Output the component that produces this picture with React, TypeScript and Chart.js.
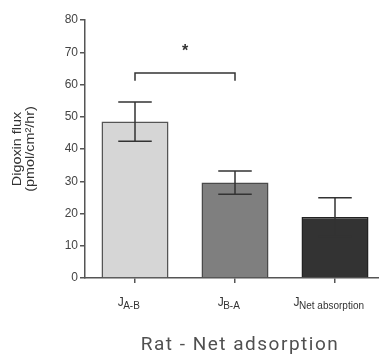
import React, { useEffect, useRef } from "react";
import { Chart, registerables } from "chart.js";

Chart.register(...registerables);

const categories = ["A-B", "B-A", "Net absorption"];
const means = [48.5, 29.6, 18.9];
const errors = [6.1, 3.6, 6.0];
const barColors = ["#d6d6d6", "#7f7f7f", "#333333"];
const borderColors = ["#555555", "#4a4a4a", "#222222"];
const yMin = 0;
const yMax = 80;
const yStep = 10;
const bracketValue = 63.6;
const bracketDrop = 2.4;
const starValue = 71;
const yTitleLines = ["Digoxin flux", "(pmol/cm²/hr)"];
const chartTitle = "Rat - Net adsorption";

const overlayPlugin = {
  id: "overlay",
  afterDatasetsDraw(chart: any) {
    const ctx = chart.ctx;
    const x = chart.scales.x;
    const y = chart.scales.y;
    const meta = chart.getDatasetMeta(0);
    ctx.save();
    // error bars
    ctx.strokeStyle = "#333";
    ctx.lineWidth = 1.5;
    meta.data.forEach((bar: any, i: number) => {
      const cx = bar.x;
      const top = y.getPixelForValue(means[i] + errors[i]);
      const bot = y.getPixelForValue(means[i] - errors[i]);
      const half = bar.width / 4;
      ctx.beginPath();
      ctx.moveTo(cx, top);
      ctx.lineTo(cx, bot);
      ctx.moveTo(cx - half, top);
      ctx.lineTo(cx + half, top);
      ctx.moveTo(cx - half, bot);
      ctx.lineTo(cx + half, bot);
      ctx.stroke();
    });
    // bracket
    const bx1 = x.getPixelForValue(0);
    const bx2 = x.getPixelForValue(1);
    const by = y.getPixelForValue(bracketValue);
    const byd = y.getPixelForValue(bracketValue - bracketDrop);
    ctx.beginPath();
    ctx.moveTo(bx1, byd);
    ctx.lineTo(bx1, by);
    ctx.lineTo(bx2, by);
    ctx.lineTo(bx2, byd);
    ctx.stroke();
    // star
    ctx.fillStyle = "#333";
    ctx.font = "bold 16px 'Liberation Sans'";
    ctx.textAlign = "center";
    ctx.textBaseline = "middle";
    ctx.fillText("*", (bx1 + bx2) / 2, y.getPixelForValue(starValue) + 3);
    // x labels J + subscript
    categories.forEach((c, i) => {
      const tx = x.getPixelForValue(i);
      ctx.font = "12px 'Liberation Sans'";
      const wJ = ctx.measureText("J").width;
      ctx.font = "10px 'Liberation Sans'";
      const wS = ctx.measureText(c).width;
      const start = tx - 6 - (wJ + wS) / 2;
      ctx.textAlign = "left";
      ctx.textBaseline = "alphabetic";
      ctx.fillStyle = "#333";
      ctx.font = "12px 'Liberation Sans'";
      ctx.fillText("J", start, 306);
      ctx.font = "10px 'Liberation Sans'";
      ctx.fillText(c, start + wJ - 0.5, 309);
    });
    // y title
    const cy = (y.top + y.bottom) / 2;
    ctx.font = "12px 'Liberation Sans'";
    ctx.fillStyle = "#333";
    ctx.textAlign = "center";
    ctx.textBaseline = "middle";
    [18, 31].forEach((px, k) => {
      ctx.save();
      ctx.translate(px, cy);
      ctx.rotate(-Math.PI / 2);
      ctx.scale(1.2, 1);
      ctx.fillText(yTitleLines[k], 0, 0);
      ctx.restore();
    });
    // chart title
    ctx.font = "19px Roboto";
    (ctx as any).letterSpacing = "1.5px";
    ctx.fillStyle = "#505050";
    ctx.textAlign = "center";
    ctx.textBaseline = "alphabetic";
    ctx.fillText(chartTitle, 240, 350);
    ctx.restore();
  },
};

export default function App() {
  const ref = useRef<HTMLCanvasElement>(null);
  useEffect(() => {
    document.documentElement.style.overflow = "hidden";
    document.body.style.overflow = "hidden";
    const chart = new Chart(ref.current!, {
      type: "bar",
      data: {
        labels: categories,
        datasets: [
          {
            data: means,
            backgroundColor: barColors,
            borderColor: borderColors,
            borderWidth: 1.5,
            barPercentage: 0.67,
            categoryPercentage: 1,
          },
        ],
      },
      options: {
        animation: false,
        responsive: false,
        devicePixelRatio: 1,
        layout: { padding: { top: 20, right: 5, bottom: 58, left: 0 } },
        plugins: { legend: { display: false }, tooltip: { enabled: false } },
        scales: {
          x: {
            grid: { display: true, drawOnChartArea: false, offset: false, tickLength: 5, color: "#555", lineWidth: 1.5 },
            border: { color: "#555", width: 1.5 },
            ticks: { display: false },
            afterFit: (s: any) => {
              s.height = 20;
            },
          },
          y: {
            min: yMin,
            max: yMax,
            grid: { display: true, drawOnChartArea: false, tickLength: 5, color: "#555", lineWidth: 1.5 },
            border: { color: "#555", width: 1.5 },
            ticks: {
              stepSize: yStep,
              padding: 2,
              color: "#444",
              font: { family: "'Liberation Sans'", size: 12 },
            },
            afterFit: (s: any) => {
              s.width = 85;
            },
          },
        },
      },
      plugins: [overlayPlugin],
    });
    return () => chart.destroy();
  }, []);
  return (
    <div style={{ position: "absolute", left: 0, top: 0, width: 390, height: 356 }}>
      <canvas ref={ref} width={390} height={356} />
    </div>
  );
}
